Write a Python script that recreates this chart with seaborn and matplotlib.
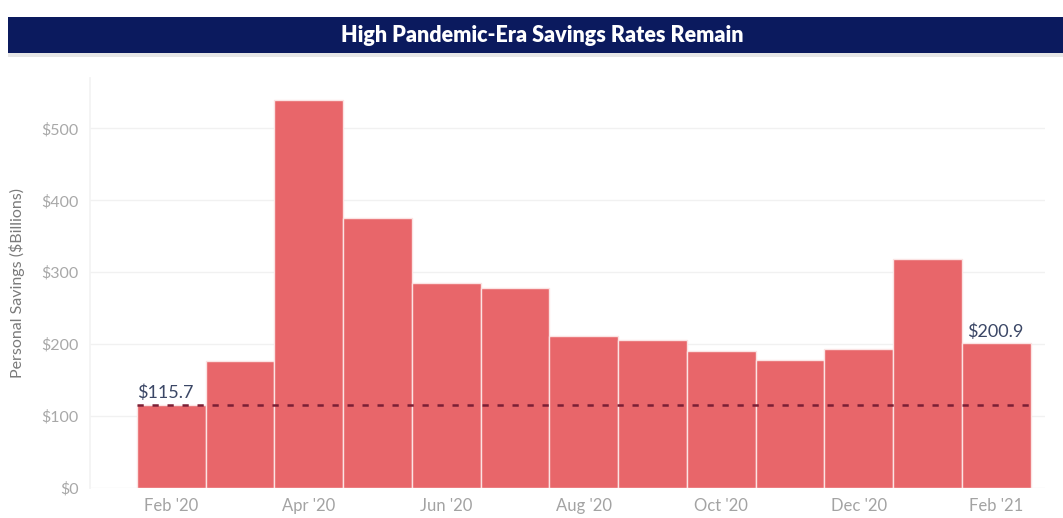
import matplotlib
matplotlib.use("Agg")
import matplotlib.pyplot as plt
import seaborn as sns
import pandas as pd
from matplotlib.patches import Rectangle

# Monthly personal savings, $ billions
months = ["Feb '20", "Mar '20", "Apr '20", "May '20", "Jun '20", "Jul '20", "Aug '20",
          "Sep '20", "Oct '20", "Nov '20", "Dec '20", "Jan '21", "Feb '21"]
savings = [115.7, 176, 539, 376, 285, 278, 212, 206, 190, 178, 193, 318, 200.9]
yticks = [0, 100, 200, 300, 400, 500]
ytick_labels = ["$0", "$100", "$200", "$300", "$400", "$500"]
baseline = 115.7

df = pd.DataFrame({"month": months, "savings": savings})

sns.set_theme(style="white")
plt.rcParams["font.family"] = ["Lato", "DejaVu Sans"]

fig = plt.figure(figsize=(10.63, 5.18), dpi=100)
ax = fig.add_axes([90 / 1063, 30 / 518, (1045 - 90) / 1063, (488 - 78) / 518])

sns.barplot(data=df, x="month", y="savings", color="#e8666a", saturation=1,
            width=1.0, edgecolor="#fbe3e3", linewidth=1.0, ax=ax, zorder=3)

ax.set_xlim(-1.18, 12.71)
ax.set_ylim(0, 570)

# Pre-pandemic reference level
ax.hlines(baseline, -0.5, 12.5, colors="#7a1f35", linestyles=(0, (2.5, 3.5)),
          linewidth=1.8, zorder=4)

ax.text(-0.5, savings[0] + 5, f"${savings[0]:.1f}", ha="left", va="bottom",
        fontsize=13, color="#3b4766", zorder=5)
ax.text(11.58, savings[-1] + 5, f"${savings[-1]:.1f}", ha="left", va="bottom",
        fontsize=13, color="#3b4766", zorder=5)

ax.set_yticks(yticks)
ax.set_yticklabels(ytick_labels)
ax.yaxis.grid(True, color="#f1f1f1", linewidth=1.0, zorder=0)
ax.set_axisbelow(True)

xt = list(range(0, len(months), 2))
ax.set_xticks(xt)
ax.set_xticklabels([months[i] for i in xt])

ax.tick_params(axis="x", length=0, labelsize=12, labelcolor="#a3a3a3", pad=7)
ax.tick_params(axis="y", length=0, labelsize=11.5, labelcolor="#a8a8a8", pad=8)
ax.set_xlabel("")
ax.set_ylabel("Personal Savings ($Billions)", fontsize=11.5, color="#7a7a7a", labelpad=12)

for side in ["top", "right", "bottom"]:
    ax.spines[side].set_visible(False)
ax.spines["left"].set_color("#f3f3f3")

# Title banner
fig.patches.append(Rectangle((8 / 1063, (518 - 53) / 518), 1 - 8 / 1063, 36 / 518,
                             transform=fig.transFigure, facecolor="#0b1a5e",
                             edgecolor="none", zorder=1))
fig.patches.append(Rectangle((8 / 1063, (518 - 57) / 518), 1 - 8 / 1063, 4 / 518,
                             transform=fig.transFigure, facecolor="#e6e6e6",
                             edgecolor="none", zorder=1))
fig.text(542 / 1063, (518 - 35) / 518, "High Pandemic-Era Savings Rates Remain",
         ha="center", va="center", color="white", fontsize=15.5, fontweight="heavy")

fig.savefig("out.png", dpi=100)
